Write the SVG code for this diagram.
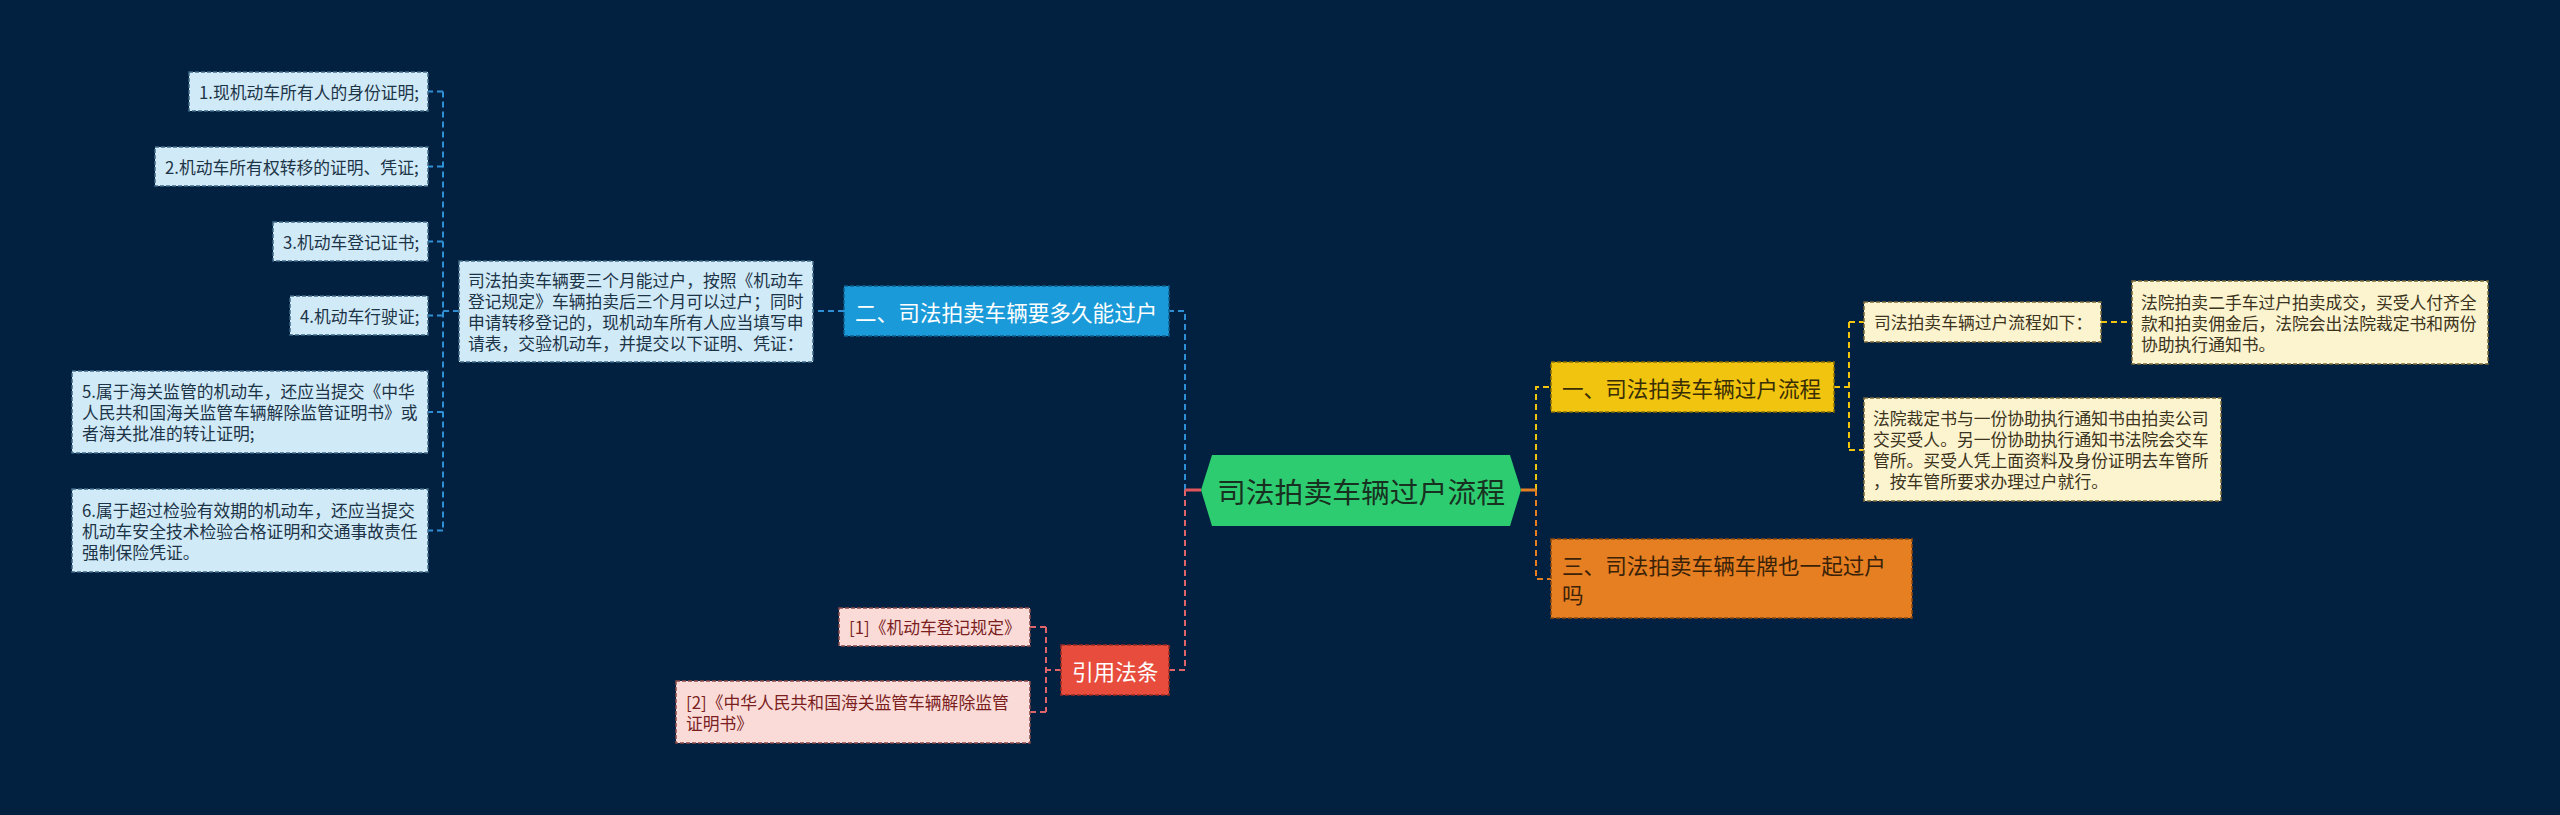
<svg xmlns="http://www.w3.org/2000/svg" width="2560" height="815" viewBox="0 0 2560 815">
<style>
text{font-family:"Noto Sans CJK SC","Noto Sans",sans-serif;dominant-baseline:central}
.s{font-size:16.8px}
.m{font-size:21.6px}
.l{font-size:28.8px}
.lb rect{fill:#d0eaf8;stroke:#3f6a86;stroke-width:1.5;stroke-dasharray:4 2}
.lb text{fill:#1d3447}
.cr rect{fill:#fcf3cf;stroke:#7a6a3a;stroke-width:1.5;stroke-dasharray:4 2}
.cr text{fill:#3b3420}
.pk rect{fill:#fadbd8;stroke:#8a4a4a;stroke-width:1.5;stroke-dasharray:4 2}
.pk text{fill:#7b1e1e}
.c{fill:none;stroke-width:2;stroke-dasharray:6 4}
.cb{stroke:#2e8fd4}
.crd{stroke:#e0656a}
.cy{stroke:#f1c40f}
.co{stroke:#e67e22}
</style>
<rect width="2560" height="815" fill="#022140"/>
<g id="connectors">
<path class="c cb" d="M1185,490 V311 H1169"/>
<path class="c crd" d="M1185,490 V670 H1169"/>
<path d="M1201,490 H1185" stroke="#e0565a" stroke-width="3" fill="none"/>
<path class="c cy" d="M1536,490 V387 H1551"/>
<path class="c co" d="M1536,490 V579 H1551"/>
<path d="M1521,490 H1536" stroke="#e67e22" stroke-width="3" fill="none"/>
<path class="c cb" d="M844,311 H813"/>
<path class="c cb" d="M459,311 H443"/>
<path class="c cb" d="M443,91.5 V530.5"/>
<path class="c cb" d="M443,91.5 H428"/>
<path class="c cb" d="M443,166.5 H428"/>
<path class="c cb" d="M443,241.5 H428"/>
<path class="c cb" d="M443,315.5 H428"/>
<path class="c cb" d="M443,412 H428"/>
<path class="c cb" d="M443,530.5 H428"/>
<path class="c crd" d="M1061,670 H1046"/>
<path class="c crd" d="M1046,627 V712"/>
<path class="c crd" d="M1046,627 H1030"/>
<path class="c crd" d="M1046,712 H1030"/>
<path class="c cy" d="M1834,387 H1849"/>
<path class="c cy" d="M1849,322 V450"/>
<path class="c cy" d="M1849,322 H1864"/>
<path class="c cy" d="M1849,450 H1864"/>
<path class="c cy" d="M2101,322 H2132"/>
</g>
<g id="center">
<polygon points="1201,490 1212,455 1510,455 1521,490 1510,526 1212,526" fill="#2ecc71"/>
<text class="l" x="1361" y="490" text-anchor="middle" fill="#18301f">司法拍卖车辆过户流程</text>
</g>
<g id="b2">
<rect x="844" y="286" width="325" height="50" fill="#1a9ad8" stroke="#0d5f8c" stroke-width="1.5" stroke-dasharray="4 2"/>
<text class="m" x="855" y="311" fill="#ffffff">二、司法拍卖车辆要多久能过户</text>
</g>
<g id="desc" class="lb">
<rect x="459" y="261" width="354" height="101"/>
<text class="s" x="468" y="280">司法拍卖车辆要三个月能过户，按照《机动车</text>
<text class="s" x="468" y="301">登记规定》车辆拍卖后三个月可以过户；同时</text>
<text class="s" x="468" y="322">申请转移登记的，现机动车所有人应当填写申</text>
<text class="s" x="468" y="343">请表，交验机动车，并提交以下证明、凭证：</text>
</g>
<g id="n1" class="lb">
<rect x="189" y="72" width="239" height="39"/>
<text class="s" x="199" y="91.5">1.现机动车所有人的身份证明;</text>
</g>
<g id="n2" class="lb">
<rect x="155" y="147" width="273" height="39"/>
<text class="s" x="165" y="166.5">2.机动车所有权转移的证明、凭证;</text>
</g>
<g id="n3" class="lb">
<rect x="273" y="222" width="155" height="39"/>
<text class="s" x="283" y="241.5">3.机动车登记证书;</text>
</g>
<g id="n4" class="lb">
<rect x="290" y="296" width="138" height="39"/>
<text class="s" x="300" y="315.5">4.机动车行驶证;</text>
</g>
<g id="n5" class="lb">
<rect x="72" y="371" width="356" height="82"/>
<text class="s" x="82" y="391">5.属于海关监管的机动车，还应当提交《中华</text>
<text class="s" x="82" y="412">人民共和国海关监管车辆解除监管证明书》或</text>
<text class="s" x="82" y="433">者海关批准的转让证明;</text>
</g>
<g id="n6" class="lb">
<rect x="72" y="489" width="356" height="83"/>
<text class="s" x="82" y="509.5">6.属于超过检验有效期的机动车，还应当提交</text>
<text class="s" x="82" y="530.5">机动车安全技术检验合格证明和交通事故责任</text>
<text class="s" x="82" y="551.5">强制保险凭证。</text>
</g>
<g id="ref">
<rect x="1061" y="645" width="108" height="50" fill="#e74c3c" stroke="#9a2a20" stroke-width="1.5" stroke-dasharray="4 2"/>
<text class="m" x="1072" y="670" fill="#ffffff">引用法条</text>
</g>
<g id="r1" class="pk">
<rect x="839" y="608" width="191" height="38"/>
<text class="s" x="849" y="627">[1]《机动车登记规定》</text>
</g>
<g id="r2" class="pk">
<rect x="676" y="681" width="354" height="62"/>
<text class="s" x="686" y="701.5">[2]《中华人民共和国海关监管车辆解除监管</text>
<text class="s" x="686" y="722.5">证明书》</text>
</g>
<g id="b1">
<rect x="1551" y="362" width="283" height="50" fill="#f1c40f" stroke="#8a6d00" stroke-width="1.5" stroke-dasharray="4 2"/>
<text class="m" x="1562" y="387" fill="#3a2e05">一、司法拍卖车辆过户流程</text>
</g>
<g id="p1" class="cr">
<rect x="1864" y="302" width="237" height="40"/>
<text class="s" x="1874" y="322">司法拍卖车辆过户流程如下：</text>
</g>
<g id="p2" class="cr">
<rect x="2132" y="281" width="356" height="83"/>
<text class="s" x="2141" y="301.5">法院拍卖二手车过户拍卖成交，买受人付齐全</text>
<text class="s" x="2141" y="322.5">款和拍卖佣金后，法院会出法院裁定书和两份</text>
<text class="s" x="2141" y="343.5">协助执行通知书。</text>
</g>
<g id="p3" class="cr">
<rect x="1864" y="398" width="357" height="103"/>
<text class="s" x="1873" y="418">法院裁定书与一份协助执行通知书由拍卖公司</text>
<text class="s" x="1873" y="439">交买受人。另一份协助执行通知书法院会交车</text>
<text class="s" x="1873" y="460">管所。买受人凭上面资料及身份证明去车管所</text>
<text class="s" x="1873" y="481">，按车管所要求办理过户就行。</text>
</g>
<g id="b3">
<rect x="1551" y="539" width="361" height="79" fill="#e67e22" stroke="#8a4a10" stroke-width="1.5" stroke-dasharray="4 2"/>
<text class="m" x="1562" y="564" fill="#3a2208">三、司法拍卖车辆车牌也一起过户</text>
<text class="m" x="1562" y="593" fill="#3a2208">吗</text>
</g>
</svg>
